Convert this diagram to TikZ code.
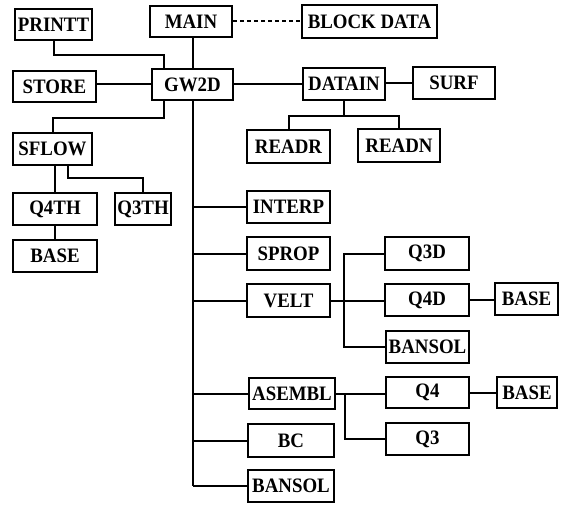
\documentclass[tikz,border=0pt]{standalone}
\usepackage{fontspec}
\setmainfont{Liberation Serif}[FakeStretch=0.92]
\begin{document}
\begin{tikzpicture}[x=1pt,y=-1pt,
  box/.style={draw, line width=2.6pt, inner sep=0pt, minimum height=32pt, font=\fontsize{20.5}{23}\selectfont\bfseries},
  conn/.style={line width=2pt}]
\useasboundingbox (0,0) rectangle (564,505);
% nodes
\node[box, minimum width=77pt, minimum height=31pt] (PRINTT) at (53.5,24.5) {PRINTT};
\node[box, minimum width=82pt, minimum height=31pt] (MAIN) at (191,21.5) {MAIN};
\node[box, minimum width=135pt, minimum height=33pt] (BLOCKDATA) at (369.5,21.5) {BLOCK DATA};
\node[box, minimum width=83pt, minimum height=31pt] (STORE) at (54.5,86.5) {STORE};
\node[box, minimum width=81pt, minimum height=31pt] (GW2D) at (192.5,84.5) {GW2D};
\node[box, minimum width=82pt] (DATAIN) at (344,84) {DATAIN};
\node[box, minimum width=82pt] (SURF) at (454,83) {SURF};
\node[box, minimum width=83pt, minimum height=33pt] (READR) at (288.5,146.5) {READR};
\node[box, minimum width=82pt, minimum height=33pt] (READN) at (399,145.5) {READN};
\node[box, minimum width=79pt] (SFLOW) at (52.5,149) {SFLOW};
\node[box, minimum width=84pt] (Q4TH) at (55,209) {Q4TH};
\node[box, minimum width=56pt] (Q3TH) at (143,209) {Q3TH};
\node[box, minimum width=84pt] (BASEa) at (55,256) {BASE};
\node[box, minimum width=83pt] (INTERP) at (288.5,207) {INTERP};
\node[box, minimum width=83pt, minimum height=33pt] (SPROP) at (288.5,253.5) {SPROP};
\node[box, minimum width=83pt, minimum height=33pt] (VELT) at (288.5,300.5) {VELT};
\node[box, minimum width=84pt, minimum height=33pt] (Q3D) at (427,253.5) {Q3D};
\node[box, minimum width=84pt] (Q4D) at (427,300) {Q4D};
\node[box, minimum width=63pt] (BASEb) at (526.5,299) {BASE};
\node[box, minimum width=83pt] (BANSOLa) at (427.5,347) {BANSOL};
\node[box, minimum width=86pt, minimum height=31pt] (ASEMBL) at (292,393.5) {ASEMBL};
\node[box, minimum width=83pt, minimum height=31pt] (Q4) at (427.5,392.5) {Q4};
\node[box, minimum width=60pt, minimum height=31pt] (BASEc) at (527,392.5) {BASE};
\node[box, minimum width=83pt] (Q3) at (427.5,439) {Q3};
\node[box, minimum width=86pt, minimum height=33pt] (BC) at (291,440.5) {BC};
\node[box, minimum width=86pt] (BANSOLb) at (291,486) {BANSOL};
% coordinates
\coordinate (p1) at (164,55);
\coordinate (s1) at (164,118);
\coordinate (d1) at (344,116);
\coordinate (f1) at (68,178);
\coordinate (v1) at (344,300);
\coordinate (a1) at (345,393);
% connectors
\draw[conn] (MAIN.south -| GW2D.north) -- (GW2D.north);
\draw[conn, dash pattern=on 4pt off 3pt] (MAIN.east) -- (BLOCKDATA.west |- MAIN.east);
\draw[conn] (PRINTT.south) |- (p1) -- (p1 |- GW2D.north);
\draw[conn] (STORE.east |- GW2D.west) -- (GW2D.west);
\draw[conn] (s1 |- GW2D.south) -- (s1) -| (SFLOW.north);
\draw[conn] (GW2D.east) -- (DATAIN.west |- GW2D.east);
\draw[conn] (DATAIN.east |- SURF.west) -- (SURF.west);
\draw[conn] (DATAIN.south) -- (d1);
\draw[conn] (READR.north) |- (d1) -| (READN.north);
\draw[conn] (Q4TH.north |- SFLOW.south) -- (Q4TH.north);
\draw[conn] (f1 |- SFLOW.south) -- (f1) -| (Q3TH.north);
\draw[conn] (Q4TH.south) -- (BASEa.north);
\draw[conn] (GW2D.south) -- (GW2D.south |- BANSOLb.west);
\draw[conn] (GW2D.south |- INTERP.west) -- (INTERP.west);
\draw[conn] (GW2D.south |- SPROP.west) -- (SPROP.west);
\draw[conn] (GW2D.south |- VELT.west) -- (VELT.west);
\draw[conn] (GW2D.south |- ASEMBL.west) -- (ASEMBL.west);
\draw[conn] (GW2D.south |- BC.west) -- (BC.west);
\draw[conn] (GW2D.south |- BANSOLb.west) -- (BANSOLb.west);
\draw[conn] (VELT.east) -- (Q4D.west |- VELT.east);
\draw[conn] (Q3D.west) -| (v1) |- (BANSOLa.west);
\draw[conn] (Q4D.east) -- (BASEb.west |- Q4D.east);
\draw[conn] (ASEMBL.east) -- (Q4.west |- ASEMBL.east);
\draw[conn] (a1) |- (Q3.west);
\draw[conn] (Q4.east) -- (BASEc.west);
\end{tikzpicture}
\end{document}
